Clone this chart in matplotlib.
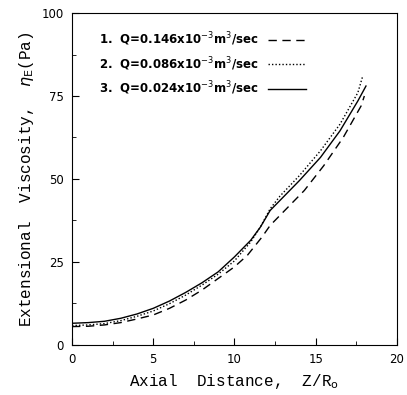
import numpy as np
import matplotlib
matplotlib.use("Agg")
import matplotlib.pyplot as plt

# Extensional viscosity vs axial distance
z1 = [0, 1, 2, 3, 4, 5, 6, 7, 8, 9, 10, 10.8, 11.7, 12.2, 12.8, 14.3, 15.5, 16.7, 17.8, 18.0]
eta1 = [5.5, 5.6, 6.0, 6.7, 7.8, 9.0, 11.0, 13.5, 16.5, 20.0, 23.5, 27.0, 32.5, 36.0, 39.0, 46.5, 54.0, 62.5, 72.0, 75.0]

z2 = [0, 1, 2, 3, 4, 5, 6, 7, 8, 9, 10, 11, 11.6, 12.2, 12.8, 14.0, 15.3, 16.5, 17.6, 17.9]
eta2 = [5.8, 6.0, 6.4, 7.3, 8.6, 10.2, 12.4, 15.0, 18.0, 21.3, 25.3, 31.0, 35.5, 41.0, 44.8, 51.0, 58.5, 66.5, 76.0, 81.0]

z3 = [0, 1, 2, 3, 4, 5, 6, 7, 8, 9, 10, 11, 11.6, 12.2, 12.8, 14.0, 15.3, 16.5, 17.6, 18.1]
eta3 = [6.5, 6.7, 7.1, 8.0, 9.3, 11.0, 13.2, 15.8, 18.7, 22.0, 26.5, 31.5, 35.5, 40.5, 43.5, 49.5, 56.5, 64.5, 73.5, 78.0]

labels = [r"1.  Q=0.146x10$^{-3}$m$^{3}$/sec",
          r"2.  Q=0.086x10$^{-3}$m$^{3}$/sec",
          r"3.  Q=0.024x10$^{-3}$m$^{3}$/sec"]

fig = plt.figure(figsize=(4.07, 3.95), dpi=100)
ax = fig.add_axes([0.177, 0.127, 0.798, 0.84])

ax.plot(z1, eta1, color="black", lw=1.0, linestyle=(0, (6, 4)), label=labels[0])
ax.plot(z2, eta2, color="black", lw=1.0, linestyle=(0, (1, 1.5)), label=labels[1])
ax.plot(z3, eta3, color="black", lw=1.0, linestyle="-", label=labels[2])

ax.set_xlim(0, 20)
ax.set_ylim(0, 100)
ax.set_xticks([0, 5, 10, 15, 20])
ax.set_yticks([0, 25, 50, 75, 100])
ax.set_xticks(np.arange(0, 20.1, 2.5), minor=True)
ax.set_yticks(np.arange(0, 100.1, 12.5), minor=True)
ax.tick_params(which="both", direction="in", top=False, right=False, labelsize=8.5)
ax.tick_params(which="major", length=5, pad=6)
ax.tick_params(which="minor", length=3)

ax.set_xlabel(r"Axial  Distance,  Z/R$_{\rm o}$", fontfamily="Liberation Mono", fontsize=11.5)
ax.set_ylabel(r"Extensional  Viscosity,  $\eta_{\rm E}$(Pa)", fontfamily="Liberation Mono", fontsize=11.5)

leg = ax.legend(loc="upper left", bbox_to_anchor=(0.05, 0.98), frameon=False,
                markerfirst=False, handlelength=3.2, labelspacing=0.6,
                prop={"weight": "bold", "size": 8.5})

fig.savefig("out.png", dpi=100)
